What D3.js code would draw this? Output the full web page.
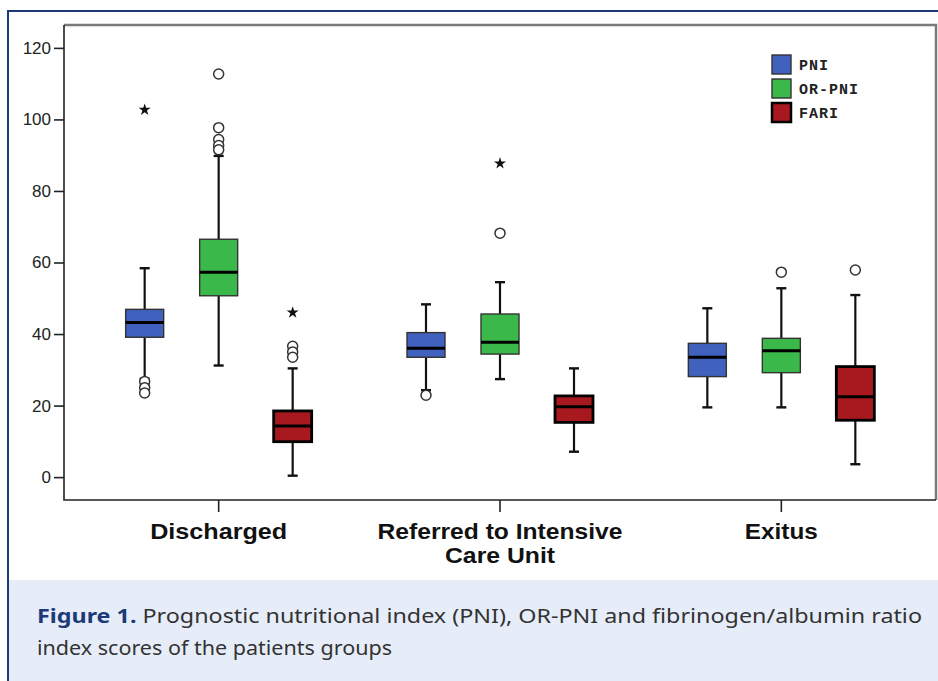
<!DOCTYPE html>
<html>
<head>
<meta charset="utf-8">
<script src="https://cdn.jsdelivr.net/npm/d3@7"></script>
<style>
  html, body { margin: 0; padding: 0; background: #fff; }
  svg { display: block; }
</style>
</head>
<body>
<div id="chart"></div>
<script>
// categories and series
const groups = ['Discharged', 'Referred to Intensive Care Unit', 'Exitus'];
const groupLabels = [['Discharged'], ['Referred to Intensive', 'Care Unit'], ['Exitus']];
const seriesNames = ['PNI', 'OR-PNI', 'FARI'];
const seriesColors = ['#4062be', '#3bb84a', '#a8191f'];

// box stats per group: [lower whisker, Q1, median, Q3, upper whisker]
const pniBoxes = [[27.5, 39.1, 43.2, 46.9, 58.4], [24.3, 33.5, 36.0, 40.4, 48.3], [19.5, 28.1, 33.5, 37.4, 47.2]];
const orPniBoxes = [[31.2, 50.7, 57.3, 66.5, 89.8], [27.4, 34.4, 37.7, 45.6, 54.5], [19.5, 29.2, 35.3, 38.8, 52.8]];
const fariBoxes = [[0.4, 9.9, 14.3, 18.5, 30.4], [7.1, 15.3, 19.7, 22.7, 30.4], [3.6, 15.9, 22.5, 30.9, 50.9]];

// outliers (circles) and extremes (stars) per group
const pniCircles = [[26.7, 25.0, 23.5], [22.9], []];
const orPniCircles = [[112.7, 97.7, 94.4, 92.7, 91.5], [68.2], [57.3]];
const fariCircles = [[36.6, 35.0, 33.5], [], [57.9]];
const pniStars = [[102.7], [], []];
const orPniStars = [[], [87.7], []];
const fariStars = [[46.0], [], []];

const yTicks = [0, 20, 40, 60, 80, 100, 120];

const captionBold = 'Figure 1.';
const captionLine1 = ' Prognostic nutritional index (PNI), OR-PNI and fibrinogen/albumin ratio';
const captionLine2 = 'index scores of the patients groups';

const seriesBoxes = [pniBoxes, orPniBoxes, fariBoxes];
const seriesCircles = [pniCircles, orPniCircles, fariCircles];
const seriesStars = [pniStars, orPniStars, fariStars];

const W = 938, H = 681;
const plot = {l: 64, t: 25, r: 936, b: 500};

const svg = d3.select('#chart').append('svg')
    .attr('width', W)
    .attr('height', H);

// outer panel
svg.append('rect')
    .attr('x', 9).attr('y', 580)
    .attr('width', W - 9).attr('height', H - 580)
    .attr('fill', '#e6edf8');
svg.append('path')
    .attr('d', `M8,${H} L8,11 L${W},11`)
    .attr('fill', 'none')
    .attr('stroke', '#1d3a78')
    .attr('stroke-width', 2);

// scales
const y = d3.scaleLinear()
    .domain([-6.4, 126.4])
    .range([plot.b, plot.t]);

const x = d3.scaleBand()
    .domain(groups)
    .range([78, 922]);

const xInner = d3.scaleBand()
    .domain(seriesNames)
    .range([-111, 111]);

const color = d3.scaleOrdinal()
    .domain(seriesNames)
    .range(seriesColors);

const boxW = 38, capW = 10;

// frame
svg.append('path')
    .attr('d', `M${plot.l},${plot.t} L${plot.r},${plot.t} L${plot.r},${plot.b}`)
    .attr('fill', 'none')
    .attr('stroke', '#7a7a7a')
    .attr('stroke-width', 2.5);
svg.append('path')
    .attr('d', `M${plot.l},${plot.t} L${plot.l},${plot.b} L${plot.r},${plot.b}`)
    .attr('fill', 'none')
    .attr('stroke', '#222')
    .attr('stroke-width', 1.6);

// y axis
const yAxis = svg.append('g')
    .attr('transform', `translate(${plot.l},0)`)
    .call(d3.axisLeft(y).tickValues(yTicks).tickSize(10).tickPadding(3));
yAxis.select('.domain').remove();
yAxis.selectAll('.tick line').attr('stroke', '#222').attr('stroke-width', 1.6);
yAxis.selectAll('.tick text')
    .attr('fill', '#222')
    .style('font-family', 'Liberation Sans, Arial, sans-serif')
    .style('font-size', '17px');

// x axis
const xAxis = svg.append('g')
    .attr('transform', `translate(0,${plot.b})`)
    .call(d3.axisBottom(x).tickSize(12).tickFormat(''));
xAxis.select('.domain').remove();
xAxis.selectAll('.tick line').attr('stroke', '#222').attr('stroke-width', 1.6);

const labelWidths = [[137], [245, 110], [73]];
groups.forEach((g, i) => {
    groupLabels[i].forEach((line, j) => {
        svg.append('text')
            .attr('x', x(g) + x.bandwidth() / 2)
            .attr('y', 539 + j * 24)
            .attr('text-anchor', 'middle')
            .attr('textLength', labelWidths[i][j])
            .attr('lengthAdjust', 'spacingAndGlyphs')
            .style('font-family', 'Liberation Sans, Arial, sans-serif')
            .style('font-weight', 'bold')
            .style('font-size', '22px')
            .attr('fill', '#111')
            .text(line);
    });
});

// boxes
seriesNames.forEach((s, si) => {
    const off = xInner(s) + xInner.bandwidth() / 2;
    const isRed = s === 'FARI';
    const boxData = seriesBoxes[si].map((b, gi) => ({g: groups[gi], b: b}));
    const gSeries = svg.append('g').classed('series', true);

    const gBox = gSeries.selectAll('.box')
        .data(boxData)
        .enter()
        .append('g')
        .classed('box', true)
        .attr('transform', d => `translate(${x(d.g) + x.bandwidth() / 2 + off},0)`);

    // whiskers
    gBox.append('line')
        .attr('x1', 0).attr('x2', 0)
        .attr('y1', d => y(d.b[0])).attr('y2', d => y(d.b[1]))
        .attr('stroke', '#111').attr('stroke-width', 2.2);
    gBox.append('line')
        .attr('x1', 0).attr('x2', 0)
        .attr('y1', d => y(d.b[3])).attr('y2', d => y(d.b[4]))
        .attr('stroke', '#111').attr('stroke-width', 2.2);
    gBox.append('line')
        .attr('x1', -capW / 2).attr('x2', capW / 2)
        .attr('y1', d => y(d.b[0])).attr('y2', d => y(d.b[0]))
        .attr('stroke', '#111').attr('stroke-width', 2.4);
    gBox.append('line')
        .attr('x1', -capW / 2).attr('x2', capW / 2)
        .attr('y1', d => y(d.b[4])).attr('y2', d => y(d.b[4]))
        .attr('stroke', '#111').attr('stroke-width', 2.4);

    // box
    gBox.append('rect')
        .attr('x', -boxW / 2)
        .attr('width', boxW)
        .attr('y', d => y(d.b[3]))
        .attr('height', d => y(d.b[1]) - y(d.b[3]))
        .attr('fill', color(s))
        .attr('stroke', isRed ? '#000' : '#333')
        .attr('stroke-width', isRed ? 2.8 : 1.4);

    // median
    gBox.append('line')
        .attr('x1', -boxW / 2).attr('x2', boxW / 2)
        .attr('y1', d => y(d.b[2])).attr('y2', d => y(d.b[2]))
        .attr('stroke', '#000').attr('stroke-width', 3);

    // outliers
    const circleData = [];
    seriesCircles[si].forEach((vals, gi) => vals.forEach(v => circleData.push({g: groups[gi], v: v})));
    gSeries.selectAll('.outlier')
        .data(circleData)
        .enter()
        .append('circle')
        .classed('outlier', true)
        .attr('cx', d => x(d.g) + x.bandwidth() / 2 + off)
        .attr('cy', d => y(d.v))
        .attr('r', 5)
        .attr('fill', '#fff')
        .attr('stroke', '#333')
        .attr('stroke-width', 1.5);

    const starData = [];
    seriesStars[si].forEach((vals, gi) => vals.forEach(v => starData.push({g: groups[gi], v: v})));
    gSeries.selectAll('.extreme')
        .data(starData)
        .enter()
        .append('path')
        .classed('extreme', true)
        .attr('d', d3.symbol().type(d3.symbolStar).size(45))
        .attr('transform', d => `translate(${x(d.g) + x.bandwidth() / 2 + off},${y(d.v)})`)
        .attr('fill', '#111');
});

// legend
const legend = svg.append('g')
    .attr('transform', 'translate(772,55)');
const legendItems = legend.selectAll('.legend-item')
    .data(seriesNames)
    .enter()
    .append('g')
    .classed('legend-item', true)
    .attr('transform', (d, i) => `translate(0,${i * 24})`);
legendItems.append('rect')
    .attr('width', 19).attr('height', 19)
    .attr('fill', d => color(d))
    .attr('stroke', d => d === 'FARI' ? '#000' : '#333')
    .attr('stroke-width', d => d === 'FARI' ? 2.5 : 1.4);
legendItems.append('text')
    .attr('x', 27)
    .attr('y', 15)
    .style('font-family', 'Liberation Mono, Courier New, monospace')
    .style('font-weight', 'bold')
    .style('font-size', '15px')
    .style('letter-spacing', '1px')
    .attr('fill', '#222')
    .text(d => d);

// caption
const cap1 = svg.append('text')
    .attr('x', 37)
    .attr('y', 623)
    .attr('textLength', 885)
    .attr('lengthAdjust', 'spacingAndGlyphs')
    .style('font-family', 'Noto Sans, sans-serif')
    .style('font-size', '20px')
    .attr('fill', '#333');
cap1.append('tspan')
    .style('font-weight', 'bold')
    .attr('fill', '#1d3a78')
    .text(captionBold);
cap1.append('tspan')
    .text(captionLine1);

svg.append('text')
    .attr('x', 37)
    .attr('y', 655)
    .attr('textLength', 355)
    .attr('lengthAdjust', 'spacingAndGlyphs')
    .style('font-family', 'Noto Sans, sans-serif')
    .style('font-size', '20px')
    .attr('fill', '#333')
    .text(captionLine2);
</script>
</body>
</html>
